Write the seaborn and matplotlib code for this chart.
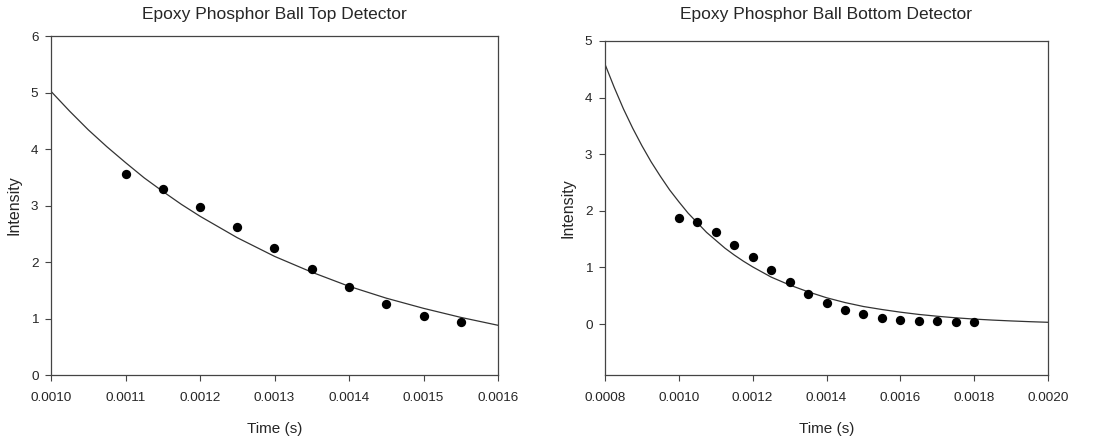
import numpy as np
import pandas as pd
import seaborn as sns
import matplotlib.pyplot as plt
from matplotlib.ticker import FormatStrFormatter

top_t = [0.00110, 0.00115, 0.00120, 0.00125, 0.00130, 0.00135, 0.00140, 0.00145, 0.00150, 0.00155]
top_i = [3.56, 3.29, 2.98, 2.62, 2.24, 1.88, 1.55, 1.26, 1.04, 0.94]
top_fit_t = [0.001000, 0.001025, 0.001050, 0.001075, 0.001100, 0.001125, 0.001150, 0.001175,
             0.00120, 0.00125, 0.00130, 0.00135, 0.00140, 0.00145, 0.00150, 0.00155, 0.00160]
top_fit_i = [5.02, 4.67, 4.34, 4.04, 3.76, 3.49, 3.25, 3.02,
             2.81, 2.43, 2.10, 1.82, 1.57, 1.36, 1.18, 1.02, 0.88]

# Bottom detector
bot_t = [0.00100, 0.00105, 0.00110, 0.00115, 0.00120, 0.00125, 0.00130, 0.00135, 0.00140,
         0.00145, 0.00150, 0.00155, 0.00160, 0.00165, 0.00170, 0.00175, 0.00180]
bot_i = [1.87, 1.80, 1.62, 1.40, 1.19, 0.96, 0.74, 0.53, 0.38,
         0.25, 0.17, 0.10, 0.07, 0.05, 0.05, 0.04, 0.04]
bot_fit_t = [0.000800, 0.000825, 0.000850, 0.000875, 0.000900, 0.000925, 0.000950, 0.000975,
             0.001000, 0.001025, 0.001050, 0.001075, 0.001100, 0.001125, 0.001150, 0.001175,
             0.00120, 0.00125, 0.00130, 0.00135, 0.00140, 0.00145, 0.00150, 0.00155, 0.00160,
             0.00165, 0.00170, 0.00175, 0.00180, 0.00185, 0.00190, 0.00195, 0.00200]
bot_fit_i = [4.59, 4.18, 3.80, 3.46, 3.15, 2.865, 2.61, 2.37,
             2.16, 1.96, 1.79, 1.62, 1.48, 1.34, 1.22, 1.11,
             1.01, 0.83, 0.69, 0.57, 0.465, 0.38, 0.31, 0.257, 0.21,
             0.17, 0.138, 0.11, 0.088, 0.07, 0.055, 0.042, 0.031]

sns.set_style("ticks")
plt.rcParams['font.family'] = ['Liberation Sans', 'DejaVu Sans']

fig = plt.figure(figsize=(11.13, 4.36), dpi=100)
ax1 = fig.add_axes([51/1113, 61/436, 447/1113, 339/436])
ax2 = fig.add_axes([605/1113, 61/436, 443/1113, 334/436])

panels = [
    (ax1, top_t, top_i, top_fit_t, top_fit_i, "Epoxy Phosphor Ball Top Detector",
     (0.0010, 0.0016), np.arange(0.0010, 0.00161, 0.0001), (0, 6), range(0, 7)),
    (ax2, bot_t, bot_i, bot_fit_t, bot_fit_i, "Epoxy Phosphor Ball Bottom Detector",
     (0.0008, 0.0020), np.arange(0.0008, 0.00201, 0.0002), (-0.9, 5), range(0, 6)),
]

for ax, t, i, ft, fi, title, xl, xt, yl, yt in panels:
    pts = pd.DataFrame({"t": t, "i": i})
    fit = pd.DataFrame({"t": ft, "i": fi})
    sns.lineplot(data=fit, x="t", y="i", ax=ax, color="#333333", lw=0.9)
    sns.scatterplot(data=pts, x="t", y="i", ax=ax, color="black", s=45,
                    edgecolor="black", linewidth=0, zorder=3)
    ax.set_xlim(*xl)
    ax.set_ylim(*yl)
    ax.set_xticks(xt)
    ax.set_yticks(list(yt))
    ax.xaxis.set_major_formatter(FormatStrFormatter('%.4f'))
    pos = ax.get_position()
    fig.text((pos.x0 + pos.x1) / 2, 1 - 14/436, title, fontsize=12.5,
             ha="center", va="center")
    ax.set_xlabel("Time (s)", fontsize=11, labelpad=13)
    ax.set_ylabel("Intensity", fontsize=11.5, labelpad=7)
    ax.tick_params(labelsize=9.7, length=4, width=0.8, color="#444444", pad=5)
    ax.tick_params(axis="x", pad=8)
    for sp in ax.spines.values():
        sp.set_visible(True)
        sp.set_color("#444444")
        sp.set_linewidth(0.9)

fig.savefig("out.png", dpi=100)
